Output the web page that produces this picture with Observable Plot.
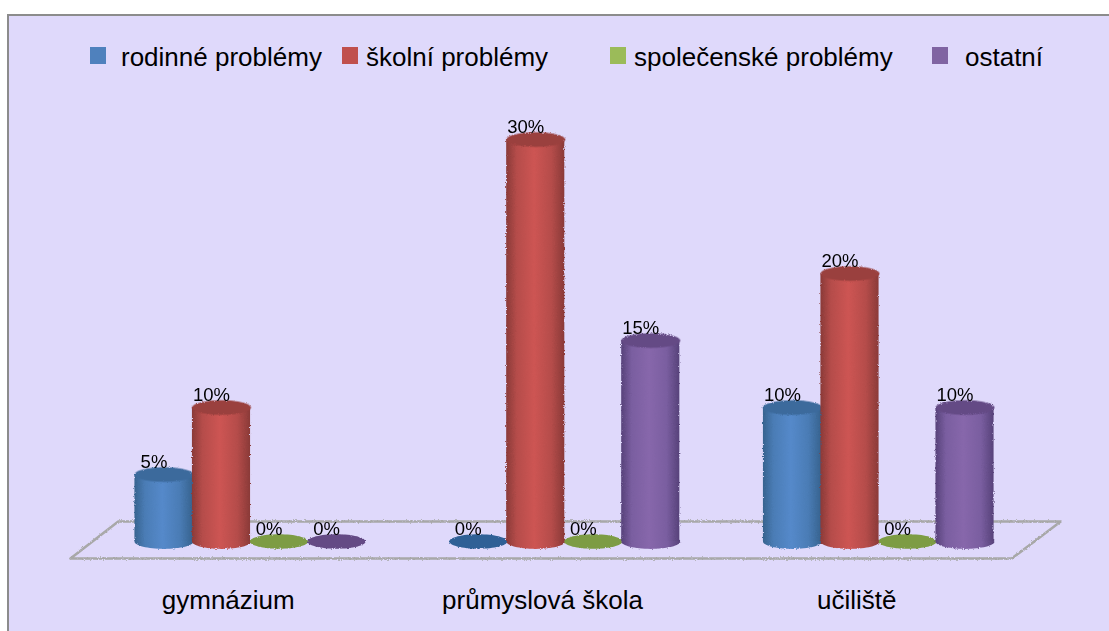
<!DOCTYPE html>
<html><head><meta charset="utf-8">
<script src="https://cdn.jsdelivr.net/npm/d3@7"></script>
<script src="https://cdn.jsdelivr.net/npm/@observablehq/plot@0.6"></script>
<style>
html,body{margin:0;padding:0;background:#fff;width:1109px;height:631px;overflow:hidden}
#panel{position:absolute;left:7px;top:14px;width:1102px;height:617px;background:#DFD9FB;border-top:2px solid #8c8c8c;border-left:2px solid #8c8c8c;box-sizing:border-box}
#chart{position:absolute;left:0;top:0}
#chart svg{background:transparent;display:block}
#legend span.sw{position:absolute;top:47px;width:16px;height:17px}
#legend span.tx{position:absolute;top:39px;font:26px "Liberation Sans",Arial,sans-serif;color:#000;white-space:nowrap;line-height:36px}
</style></head>
<body>
<div id="panel"></div>
<div id="chart"></div>
<div id="legend"></div>
<script>
const categories = ["gymnázium", "průmyslová škola", "učiliště"];
const seriesNames = ["rodinné problémy", "školní problémy", "společenské problémy", "ostatní"];
const rodinne = [5, 0, 10];
const skolni = [10, 30, 20];
const spolecenske = [0, 0, 0];
const ostatni = [0, 15, 10];
const seriesValues = [rodinne, skolni, spolecenske, ostatni];

const legendColors = ["#4F81BD", "#C0504D", "#9BBB59", "#8064A2"];
const edgeColors = ["#37638f", "#8a3a38", "#6f8a3d", "#57427a"];
const midColors = ["#4a7cb5", "#b54c4a", "#8aa84f", "#7a5ea0"];
const lightColors = ["#5589ca", "#cd5553", "#9fc05c", "#8767ab"];
const topColors = ["#3c6a9c", "#9a403e", "#7d9c44", "#644a85"];
const baseColors = ["#2f6096", "#9a403e", "#7d9c44", "#644a85"];

// floor parallelogram in chart units (x: group index, y: percent)
const floorX = [-0.572, -0.42, 2.579, 2.423, -0.572];
const floorY = [-1.27, 1.49, 1.49, -1.27, -1.27];

const seriesStep = 0.183, barHalf = 0.0925;
const rows = seriesValues.flatMap((vals, s) => vals.map((v, g) => ({
  s, g, v, pos: g + (s - 1.5) * seriesStep
})));

const ellipse = {
  draw(ctx, size) {
    const rx = Math.sqrt(size / Math.PI), ry = rx * 0.25, k = 0.5523;
    ctx.moveTo(-rx, 0);
    ctx.bezierCurveTo(-rx, -ry * k, -rx * k, -ry, 0, -ry);
    ctx.bezierCurveTo(rx * k, -ry, rx, -ry * k, rx, 0);
    ctx.bezierCurveTo(rx, ry * k, rx * k, ry, 0, ry);
    ctx.bezierCurveTo(-rx * k, ry, -rx, ry * k, -rx, 0);
    ctx.closePath();
  }
};

const marks = [Plot.line(floorX.map((x, i) => [x, floorY[i]]), {
  x: d => d[0], y: d => d[1], stroke: "#a8a8a8", strokeWidth: 2.6, curve: "linear"
})];

seriesNames.forEach((name, s) => {
  const all = rows.filter(d => d.s === s);
  const pos = all.filter(d => d.v > 0);
  const zero = all.filter(d => d.v === 0);
  const grad = `url(#grad${s})`;
  marks.push(
    Plot.dot(zero, {x: "pos", y: 0, r: 29, symbol: ellipse, fill: baseColors[s]}),
    Plot.dot(pos, {x: "pos", y: 0, r: 29.5, symbol: ellipse, fill: grad}),
    Plot.rectY(pos, {x1: d => d.pos - barHalf, x2: d => d.pos + barHalf, y1: 0, y2: "v", fill: grad}),
    Plot.dot(pos, {x: "pos", y: "v", r: 29.5, symbol: ellipse, fill: topColors[s]})
  );
});
marks.push(
  Plot.text(rows, {x: "pos", y: "v", text: d => d.v + "%", dx: -10, dy: -7, lineAnchor: "bottom",
    fontSize: 18.5, fill: "#000", fontFamily: "Liberation Sans"}),
  Plot.axisX({ticks: [0, 1, 2], tickFormat: i => categories[i], tickSize: 0, tickPadding: 0, dx: -22, label: null,
    fontSize: 26, fontFamily: "Liberation Sans", color: "#000", lineAnchor: "middle"})
);

const svg = Plot.plot({
  width: 1109, height: 631, margin: 0, marginBottom: 31,
  style: {background: "transparent", overflow: "visible"},
  x: {type: "linear", domain: [-1, 3], range: [-64.5, 1192.5], axis: null},
  y: {type: "linear", domain: [0, 30], range: [541, 139], axis: null},
  marks
});

const sel = d3.select(svg);
const defs = sel.insert("defs", ":first-child");
const filter = defs.append("filter").attr("id", "rough")
  .attr("x", "-5%").attr("y", "-5%").attr("width", "110%").attr("height", "110%")
  .attr("color-interpolation-filters", "sRGB");
filter.append("feTurbulence").attr("type", "fractalNoise").attr("baseFrequency", 0.9).attr("numOctaves", 2).attr("seed", 3).attr("result", "n");
filter.append("feDisplacementMap").attr("in", "SourceGraphic").attr("in2", "n").attr("scale", 2.6).attr("xChannelSelector", "R").attr("yChannelSelector", "G");
seriesNames.forEach((_, s) => {
  const g = defs.append("linearGradient").attr("id", "grad" + s)
    .attr("x1", 0).attr("x2", 1).attr("y1", 0).attr("y2", 0);
  [[0, edgeColors[s]], [0.18, midColors[s]], [0.48, lightColors[s]], [0.78, midColors[s]], [1, edgeColors[s]]]
    .forEach(([o, c]) => g.append("stop").attr("offset", o).attr("stop-color", c));
});
sel.selectAll('g[aria-label="rect"], g[aria-label="dot"], g[aria-label="line"]').attr("filter", "url(#rough)");
document.getElementById("chart").appendChild(svg);

const swatchX = [90, 342, 610, 932];
const textX = [121, 366, 634, 965];
const legend = d3.select("#legend");
seriesNames.forEach((name, s) => {
  legend.append("span").attr("class", "sw").style("left", swatchX[s] + "px").style("background", legendColors[s]);
  legend.append("span").attr("class", "tx").style("left", textX[s] + "px").text(name);
});
</script>
</body></html>
